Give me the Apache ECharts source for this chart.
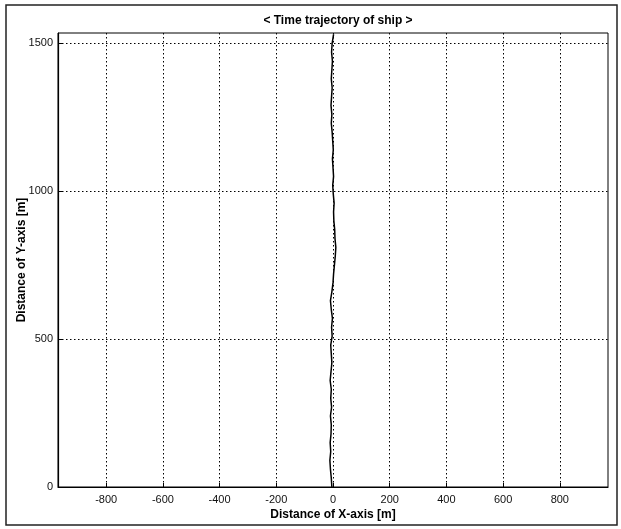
<!DOCTYPE html>
<html>
<head>
<meta charset="utf-8">
<script src="https://cdn.jsdelivr.net/npm/echarts@6/dist/echarts.min.js"></script>
<style>
html,body{margin:0;padding:0;background:#fff;}
#chart{width:621px;height:529px;}
</style>
</head>
<body>
<div id="chart"></div>
<script>
var titleText = '< Time trajectory of ship >';
var xAxisName = 'Distance of X-axis [m]';
var yAxisName = 'Distance of Y-axis [m]';
var xTicks = [-800, -600, -400, -200, 0, 200, 400, 600, 800];
var yTicks = [0, 500, 1000, 1500];
var trajY = [0, 30, 60, 90, 120, 150, 180, 210, 240, 270, 300, 330, 360, 390, 420, 450, 480, 510, 540, 570, 600, 630, 660, 690, 720, 750, 780, 810, 840, 870, 900, 930, 960, 990, 1020, 1050, 1080, 1110, 1140, 1170, 1200, 1230, 1260, 1290, 1320, 1350, 1380, 1410, 1440, 1470, 1500, 1530];
var trajX = [-4, -6, -9, -11, -8, -10, -7, -6, -9, -5, -8, -6, -10, -7, -4, -6, -8, -3, -5, -2, -6, -9, -4, 0, 2, 5, 8, 10, 7, 6, 3, 2, 4, 1, -1, 2, 0, -2, 1, -1, -3, -6, -4, -7, -5, -3, -6, -4, -2, -5, -3, 2];

var pts = trajY.map(function (y, i) { return [trajX[i], y]; });
var font = '"Liberation Sans", Arial, sans-serif';
var chart = echarts.init(document.getElementById('chart'));
var gridLine = { show: true, lineStyle: { color: '#000', width: 1, type: [1.5, 2.5] } };
chart.setOption({
  animation: false,
  backgroundColor: '#fff',
  title: {
    text: titleText, left: 333, top: 10, textAlign: 'center',
    textStyle: { fontFamily: font, fontSize: 12, fontWeight: 'bold', color: '#000' }
  },
  graphic: [{
    type: 'rect', shape: { x: 6, y: 5, width: 611, height: 520 },
    style: { fill: 'none', stroke: '#222', lineWidth: 1.5 }, silent: true, z: -1
  }],
  grid: { left: 58, right: 13, top: 33, bottom: 42, show: true, borderColor: '#000', borderWidth: 1, backgroundColor: 'transparent' },
  xAxis: {
    type: 'value', min: -970, max: 970,
    name: xAxisName, nameLocation: 'middle', nameGap: 22, nameMoveOverlap: false,
    nameTextStyle: { fontFamily: font, fontSize: 12, fontWeight: 'bold', color: '#000' },
    axisLine: { show: true, onZero: false, lineStyle: { color: '#000', width: 1.2 } },
    axisTick: { show: true, inside: true, length: 4, customValues: xTicks, lineStyle: { color: '#000' } },
    axisLabel: { customValues: xTicks, fontFamily: font, fontSize: 11, color: '#111', margin: 7 },
    splitLine: gridLine
  },
  yAxis: {
    type: 'value', min: 0, max: 1535,
    name: yAxisName, nameLocation: 'middle', nameGap: 30, nameMoveOverlap: false,
    nameTextStyle: { fontFamily: font, fontSize: 12, fontWeight: 'bold', color: '#000' },
    axisLine: { show: true, onZero: false, lineStyle: { color: '#000', width: 1.2 } },
    axisTick: { show: true, inside: true, length: 4, customValues: yTicks, lineStyle: { color: '#000' } },
    axisLabel: { customValues: yTicks, fontFamily: font, fontSize: 11, color: '#111', margin: 5,
      formatter: function (v) { return String(v); } },
    splitLine: gridLine
  },
  series: [{
    type: 'line', data: pts, showSymbol: false, smooth: false,
    lineStyle: { color: '#000', width: 1.5 }, z: 5
  }]
});
</script>
</body>
</html>
